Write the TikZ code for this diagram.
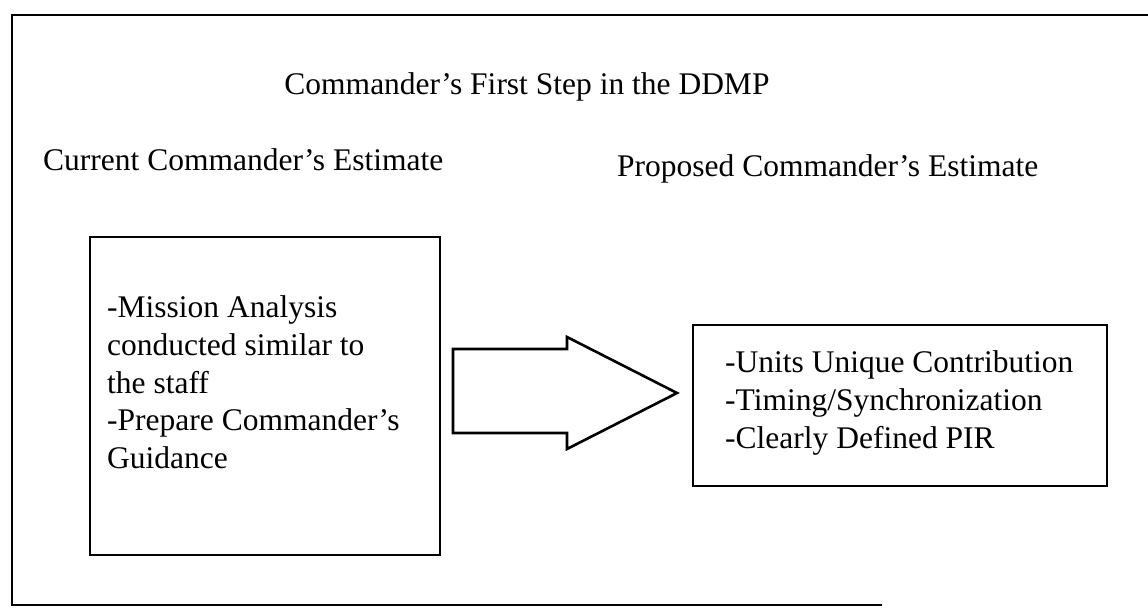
\documentclass[tikz,border=0pt]{standalone}
\usepackage{fontspec}
\setmainfont{Liberation Serif}
\usetikzlibrary{positioning}

\begin{document}
\begin{tikzpicture}[x=1pt,y=-1pt,
  box/.style={draw, line width=2.6pt, inner sep=0pt},
  txt/.style={inner sep=0pt, font=\fontsize{31.5}{37.8}\selectfont},
  list/.style={txt, align=left, anchor=north west}]
\useasboundingbox (0,0) rectangle (1148,612);
% open frame of the scan
\draw[line width=2.8pt] (1148,15) -- (12,15) -- (12,605) -- (882,605);
% headings
\node[txt, anchor=base] (title) at (527,95) {Commander’s First Step in the DDMP};
\node[txt, anchor=base west] (curlbl) at (43,171) {Current Commander’s Estimate};
\node[txt, anchor=base west] (proplbl) at (617,177) {Proposed Commander’s Estimate};
% the two estimates
\node[box, minimum width=350pt, minimum height=318pt] (curbox) at (265,396) {};
\node[list] (curtxt) at (107,295.5) {-Mission Analysis\\conducted similar to\\the staff\\-Prepare Commander’s\\Guidance};
\node[box, minimum width=414pt, minimum height=161pt] (propbox) at (900,405.5) {};
\node[list] (proptxt) at (725,350.5) {-Units Unique Contribution\\-Timing/Synchronization\\-Clearly Defined PIR};
% block arrow
\draw[line width=2.6pt, line join=miter] (453,349) -- (567,349) -- (567,337) -- (677,393)
  -- (567,449) -- (567,433) -- (453,433) -- cycle;
\end{tikzpicture}
\end{document}
